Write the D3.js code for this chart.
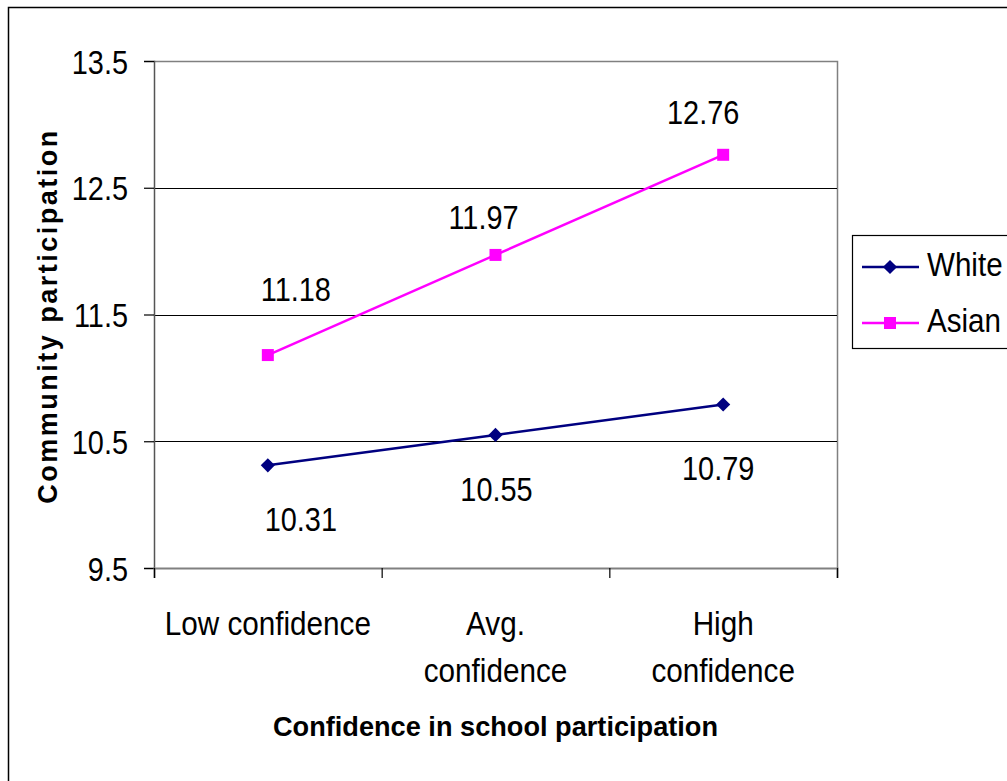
<!DOCTYPE html>
<html>
<head>
<meta charset="utf-8">
<script src="https://cdn.jsdelivr.net/npm/d3@7"></script>
<style>
  html, body { margin: 0; padding: 0; background: #fff; }
  svg { display: block; }
  text { font-family: "Liberation Sans", Arial, sans-serif; fill: #000; }
</style>
</head>
<body>
<svg id="chart" width="1007" height="781"></svg>
<script>
// ---- data ----
const categories = ["Low confidence", "Avg. confidence", "High confidence"];
const categoryLines = [["Low confidence"], ["Avg.", "confidence"], ["High", "confidence"]];
const seriesNames = ["White", "Asian"];
const whiteValues = [10.31, 10.55, 10.79];
const asianValues = [11.18, 11.97, 12.76];
const yTickValues = [9.5, 10.5, 11.5, 12.5, 13.5];
const yTitle = "Community participation";
const xTitle = "Confidence in school participation";

// ---- layout ----
const W = 1007, H = 781;
const plot = { left: 154, right: 837, top: 61, bottom: 568 };
const FS = 34, SX = 0.85;          // regular text size and horizontal squeeze
const colors = { White: "#000080", Asian: "#FF00FF" };
// label placement relative to each point (dx, baseline dy)
const labelOffsets = {
  White: [[33, 66], [1, 66], [-5, 76]],
  Asian: [[28, -54], [-12, -26], [-20, -31]]
};

const svg = d3.select("#chart");

// outer chart border
svg.append("rect")
  .attr("x", 8.5).attr("y", 7.5)
  .attr("width", W + 20).attr("height", H + 20)
  .attr("fill", "#fff").attr("stroke", "#000").attr("stroke-width", 1.5);

const y = d3.scaleLinear().domain([9.5, 13.5]).range([plot.bottom, plot.top]);
const x = d3.scalePoint().domain(categories).range([plot.left, plot.right]).padding(0.5);
const xEdges = d3.scaleLinear().domain([0, categories.length]).range([plot.left, plot.right]);

// helper: squeezed text at a position
function sText(g, tx, ty, str, opts = {}) {
  const grp = g.append("g").attr("transform", `translate(${tx},${ty})${opts.rotate ? " rotate(" + opts.rotate + ")" : ""} scale(${opts.sx ?? SX},1)`);
  const t = grp.append("text")
    .attr("text-anchor", opts.anchor || "middle")
    .attr("font-size", opts.size || FS)
    .attr("font-weight", opts.weight || "normal")
    .text(str);
  if (opts.spacing) t.attr("letter-spacing", opts.spacing);
  return t;
}

// plot area frame (top and right edges)
svg.append("path")
  .attr("d", `M${plot.left},${plot.top + 0.5}H${plot.right + 0.5}V${plot.bottom}`)
  .attr("fill", "none").attr("stroke", "#808080").attr("stroke-width", 1.5);

// horizontal gridlines
svg.append("g").selectAll("line")
  .data(yTickValues.filter(v => v > 9.5 && v < 13.5))
  .join("line")
  .attr("x1", plot.left).attr("x2", plot.right)
  .attr("y1", d => Math.round(y(d)) + 0.5).attr("y2", d => Math.round(y(d)) + 0.5)
  .attr("stroke", "#000").attr("stroke-width", 1);

// y axis
const yAxis = svg.append("g")
  .attr("transform", `translate(${plot.left},0)`)
  .call(d3.axisLeft(y).tickValues(yTickValues).tickFormat(d3.format(".1f")).tickSize(10).tickPadding(16));
yAxis.select(".domain").attr("stroke", "#555").attr("stroke-width", 1.5);
yAxis.selectAll(".tick line").attr("stroke", "#000").attr("stroke-width", 1.2);
yAxis.selectAll(".tick text")
  .attr("font-size", FS)
  .attr("font-family", "Liberation Sans, Arial, sans-serif")
  .attr("fill", "#000")
  .attr("dy", "0.36em")
  .attr("x", -26 / SX)
  .attr("transform", `scale(${SX},1)`);

// x axis with ticks on category boundaries
const xAxis = svg.append("g")
  .attr("transform", `translate(0,${plot.bottom})`)
  .call(d3.axisBottom(xEdges).ticks(categories.length).tickFormat("").tickSize(10));
xAxis.select(".domain").attr("stroke", "#808080").attr("stroke-width", 2);
xAxis.selectAll(".tick line").attr("stroke", "#000").attr("stroke-width", 1.2);

// category labels
categories.forEach((c, i) => {
  categoryLines[i].forEach((line, j) => {
    sText(svg, x(c), 635 + j * 47, line, { size: 33, sx: 0.9 });
  });
});

// axis titles
sText(svg, (plot.left + plot.right) / 2, 736, xTitle, { weight: "bold", size: 28, sx: 0.97 });
sText(svg, 57, 316, yTitle, { weight: "bold", size: 27, sx: 1, rotate: -90, spacing: 2.5 });

// series: diamond = square turned 45 degrees
const series = [
  { name: "White", values: whiteValues, shape: d3.symbolSquare, size: 100, rot: 45 },
  { name: "Asian", values: asianValues, shape: d3.symbolSquare, size: 144, rot: 0 }
];
const line = d3.line().x((d, i) => x(categories[i])).y(d => y(d));

series.forEach(s => {
  const g = svg.append("g");
  g.append("path")
    .attr("d", line(s.values))
    .attr("fill", "none")
    .attr("stroke", colors[s.name])
    .attr("stroke-width", 2.5);
  g.selectAll("path.m")
    .data(s.values)
    .join("path")
    .attr("class", "m")
    .attr("transform", (d, i) => `translate(${x(categories[i])},${y(d)}) rotate(${s.rot})`)
    .attr("d", d3.symbol().type(s.shape).size(s.size))
    .attr("fill", colors[s.name]);
  s.values.forEach((v, i) => {
    const [dx, dy] = labelOffsets[s.name][i];
    sText(svg, x(categories[i]) + dx, y(v) + dy, v.toFixed(2));
  });
});

// legend
const legend = svg.append("g");
legend.append("rect")
  .attr("x", 852.5).attr("y", 235.5)
  .attr("width", 200).attr("height", 113)
  .attr("fill", "#fff").attr("stroke", "#000").attr("stroke-width", 1.2);
series.forEach((s, i) => {
  const ly = 267 + i * 56;
  legend.append("line")
    .attr("x1", 862).attr("x2", 919)
    .attr("y1", ly).attr("y2", ly)
    .attr("stroke", colors[s.name]).attr("stroke-width", 2.5);
  legend.append("path")
    .attr("transform", `translate(890,${ly}) rotate(${s.rot})`)
    .attr("d", d3.symbol().type(s.shape).size(s.size))
    .attr("fill", colors[s.name]);
  sText(legend, 927, ly + 9, s.name, { anchor: "start", sx: 0.87 });
});
</script>
</body>
</html>
